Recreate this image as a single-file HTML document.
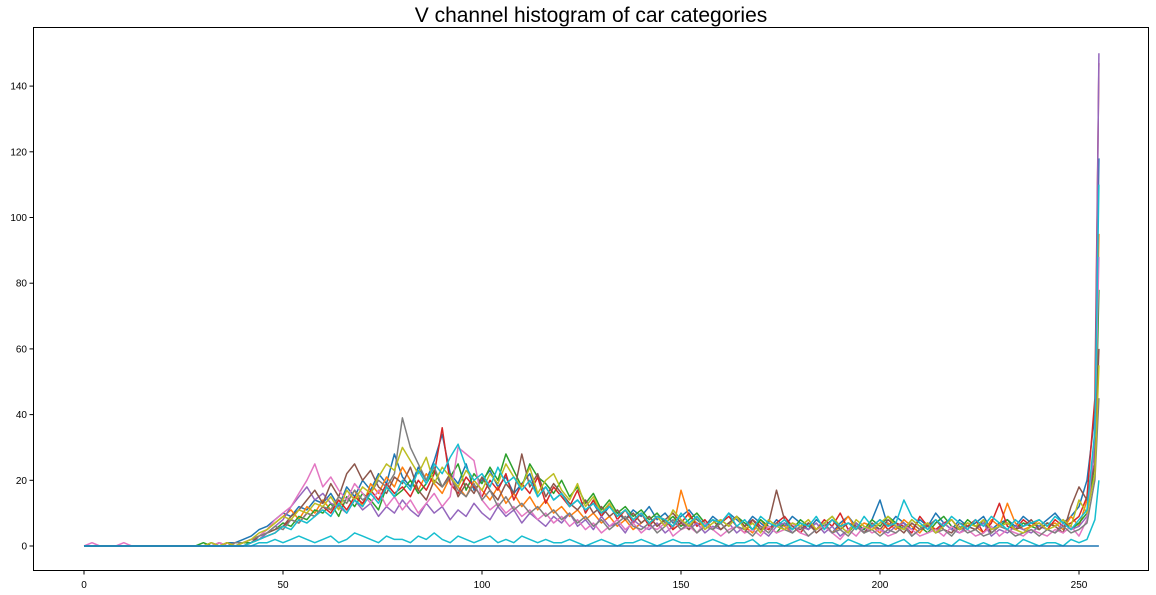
<!DOCTYPE html>
<html><head><meta charset="utf-8"><style>
body{margin:0;background:#fff;}
svg{display:block;font-family:"Liberation Sans","DejaVu Sans",sans-serif;}
</style></head><body>
<svg id="chart" width="1156" height="595">
<rect x="0" y="0" width="1156" height="595" fill="#fff"/>
<text x="591" y="22" font-size="21" text-anchor="middle" fill="#000">V channel histogram of car categories</text>
<g id="lines"></g>
<rect x="33.5" y="27.5" width="1115" height="543" fill="none" stroke="#000" stroke-width="1"/>
<g id="xaxis"></g>
<g id="yaxis"></g>
</svg>
<script>
const xTicks=[0,50,100,150,200,250];
const yTicks=[0,20,40,60,80,100,120,140];
const colors=["#1f77b4","#ff7f0e","#2ca02c","#d62728","#9467bd","#8c564b","#e377c2","#7f7f7f","#bcbd22","#17becf","#17becf"];
const s1=[0,0,0,0,0,0,0,0,0,0,0,0,0,0,0,0,1,0,1,1,2,3,5,6,8,10,9,12,11,14,13,16,12,18,15,20,17,22,19,28,21,18,24,20,26,34,22,19,25,17,20,23,18,21,16,19,22,15,18,14,16,12,14,11,13,9,12,10,8,11,9,12,8,10,7,9,11,8,6,9,7,10,8,6,9,7,5,8,6,9,7,5,8,6,4,7,9,6,5,8,14,6,9,7,5,8,6,10,7,5,8,6,7,9,5,7,8,6,9,7,6,8,10,7,9,12,20,40,118];
const s2=[0,0,0,0,0,0,0,0,0,0,0,0,0,0,0,0,0,1,0,1,1,2,3,5,7,9,11,8,12,10,14,11,15,13,17,12,19,16,21,18,24,20,17,22,19,16,21,18,15,20,17,14,18,13,16,12,15,11,14,10,12,9,11,8,10,7,9,6,8,5,7,9,6,8,5,17,9,7,6,8,5,7,9,6,4,8,5,7,6,4,6,8,5,7,4,6,9,5,7,6,4,7,5,8,6,4,7,5,6,8,5,7,6,4,8,6,13,7,5,6,8,6,7,5,9,6,14,30,95];
const s3=[0,0,0,0,0,0,0,0,0,0,0,0,0,0,0,1,0,0,1,0,1,1,2,4,5,7,6,9,8,11,10,13,9,15,12,16,14,11,18,15,17,20,16,19,23,18,21,25,17,22,19,24,20,28,23,18,25,21,19,16,20,15,18,13,16,11,14,10,12,9,11,8,10,7,9,6,8,10,7,5,8,6,9,7,5,8,6,4,7,5,8,6,5,7,9,6,4,7,5,8,6,9,7,5,8,6,4,7,9,6,5,8,6,7,4,6,8,5,7,6,5,7,6,8,5,7,10,25,78];
const s4=[0,0,0,0,0,0,0,0,0,0,0,0,0,0,0,0,0,0,1,0,0,1,2,3,4,6,8,7,10,9,12,10,14,11,15,13,17,14,19,16,18,15,20,17,22,36,19,16,21,18,15,20,17,22,14,19,16,21,13,18,15,12,17,10,14,9,13,8,11,7,10,6,9,8,5,7,10,6,8,5,7,9,6,4,8,6,5,7,9,6,4,7,5,8,6,10,5,7,4,6,8,5,7,6,4,9,6,5,7,8,5,6,8,4,7,13,6,5,8,6,7,5,8,6,7,9,15,45,147];
const s5=[0,0,0,0,0,0,0,0,0,0,0,0,0,0,0,0,0,0,0,0,1,2,2,4,6,8,12,15,18,14,16,13,12,10,14,11,13,9,12,10,14,11,9,13,10,12,8,11,9,13,10,8,12,9,11,7,10,8,6,9,7,10,6,8,5,9,6,7,4,8,6,5,7,4,6,8,5,7,4,6,5,7,4,6,8,5,3,6,7,4,6,5,7,4,6,3,5,7,4,6,5,4,6,7,3,5,6,4,7,5,4,6,5,7,3,5,4,6,5,4,6,5,4,7,5,6,9,30,150];
const s6=[0,0,0,0,0,0,0,0,0,0,0,0,0,0,0,0,0,1,0,0,0,1,3,4,5,6,9,11,14,17,13,19,15,22,25,20,23,18,16,21,19,24,17,14,20,18,22,15,19,16,21,17,14,19,16,28,18,22,15,19,16,13,11,14,10,12,9,11,8,10,7,9,6,8,10,7,5,9,6,8,5,7,9,6,8,5,7,17,8,6,5,7,4,6,8,5,7,6,4,7,5,8,6,4,7,5,6,8,5,4,7,6,5,8,4,6,7,5,6,8,5,7,6,4,12,18,14,25,60];
const s7=[0,1,0,0,0,1,0,0,0,0,0,0,0,0,0,0,0,1,0,1,1,2,3,5,8,10,12,16,20,25,18,21,17,14,19,16,13,17,12,15,11,14,10,13,16,12,15,30,28,26,14,11,13,10,12,9,11,8,10,7,9,6,8,5,7,4,6,8,5,7,4,6,5,7,3,5,6,4,7,5,3,5,6,4,5,3,6,4,5,7,4,3,5,6,4,2,5,3,6,4,5,3,4,6,5,3,4,5,3,6,4,5,3,4,6,3,5,4,3,5,4,3,5,4,6,3,8,35,88];
const s8=[0,0,0,0,0,0,0,0,0,0,0,0,0,0,0,0,0,0,0,1,1,2,3,4,6,5,8,7,10,9,12,11,15,13,17,14,16,20,18,22,39,30,25,20,24,18,21,17,15,19,14,17,12,15,11,13,10,12,9,11,8,10,7,9,6,8,5,7,9,6,5,7,4,6,8,5,7,4,6,5,7,4,6,5,3,6,4,7,5,4,6,3,5,7,4,5,3,6,4,5,3,5,4,6,3,5,7,4,5,3,6,4,5,3,4,6,5,3,4,5,3,5,4,6,4,5,7,20,45];
const s9=[0,0,0,0,0,0,0,0,0,0,0,0,0,0,0,0,1,0,1,0,1,2,4,5,7,9,8,11,10,13,12,15,11,17,14,18,16,21,25,23,30,26,22,27,19,24,21,18,23,20,17,22,19,25,21,18,24,16,20,22,17,14,19,12,15,10,13,9,11,8,10,7,9,6,11,8,6,9,5,7,8,6,9,5,7,4,8,6,5,7,6,8,5,7,9,6,4,8,6,5,7,9,6,5,8,6,7,4,6,8,5,7,6,8,5,6,7,5,4,6,7,5,6,8,6,14,10,22,55];
const s10=[0,0,0,0,0,0,0,0,0,0,0,0,0,0,0,0,0,0,0,0,0,1,2,3,4,6,5,8,7,9,11,9,13,10,14,12,16,13,18,15,20,17,23,19,25,22,27,31,24,20,22,18,24,19,21,17,20,15,18,14,16,12,14,11,13,10,12,9,11,8,10,7,9,8,6,10,7,9,6,8,7,10,6,8,5,9,7,6,8,5,7,6,9,5,8,6,7,5,9,6,8,6,7,14,9,7,5,8,6,9,7,5,8,6,9,7,5,8,6,7,8,6,9,7,5,8,11,35,110];
const s11=[0,0,0,0,0,0,0,0,0,0,0,0,0,0,0,0,0,0,0,0,0,0,1,1,2,1,2,3,2,1,2,3,1,2,4,3,2,1,3,2,2,1,3,2,4,2,1,3,2,1,2,3,1,2,1,3,2,1,2,1,1,2,1,0,1,2,1,0,1,1,2,1,0,1,2,1,1,0,1,2,1,0,1,1,2,0,1,1,0,1,2,1,0,1,1,0,2,1,0,1,1,0,1,2,0,1,1,0,1,0,2,1,0,1,0,1,1,0,2,1,0,1,1,0,2,1,2,8,20];
const s12=[0,0,0,0,0,0,0,0,0,0,0,0,0,0,0,0,0,0,0,0,0,0,0,0,0,0,0,0,0,0,0,0,0,0,0,0,0,0,0,0,0,0,0,0,0,0,0,0,0,0,0,0,0,0,0,0,0,0,0,0,0,0,0,0,0,0,0,0,0,0,0,0,0,0,0,0,0,0,0,0,0,0,0,0,0,0,0,0,0,0,0,0,0,0,0,0,0,0,0,0,0,0,0,0,0,0,0,0,0,0,0,0,0,0,0,0,0,0,0,0,0,0,0,0,0,0,0,0,0];
const series=[s1,s2,s3,s4,s5,s6,s7,s8,s9,s10,s11,s12];
const binCount=s1.length;
function binX(i){return i===binCount-1?255:i*2;}
function xScale(v){return 84+v*3.98;}
function yScale(v){return 546-v*3.285;}
const NS="http://www.w3.org/2000/svg";
const gl=document.getElementById("lines");
series.forEach((s,k)=>{
  const p=document.createElementNS(NS,"polyline");
  p.setAttribute("points",s.map((v,i)=>xScale(binX(i)).toFixed(1)+","+yScale(v).toFixed(1)).join(" "));
  p.setAttribute("fill","none");
  p.setAttribute("stroke",colors[k%colors.length]);
  p.setAttribute("stroke-width","1.5");
  p.setAttribute("stroke-linejoin","round");
  
  
  gl.appendChild(p);
});
const gx=document.getElementById("xaxis");
xTicks.forEach(t=>{
  const x=xScale(t);
  const ln=document.createElementNS(NS,"line");
  ln.setAttribute("x1",x);ln.setAttribute("x2",x);ln.setAttribute("y1",571);ln.setAttribute("y2",574.5);
  ln.setAttribute("stroke","#000");
  
  
  gx.appendChild(ln);
  const tx=document.createElementNS(NS,"text");
  tx.setAttribute("x",x);tx.setAttribute("y",588);tx.setAttribute("font-size","10");tx.setAttribute("text-anchor","middle");
  tx.textContent=t;
  
  
  gx.appendChild(tx);
});
const gy=document.getElementById("yaxis");
yTicks.forEach(t=>{
  const y=yScale(t);
  const ln=document.createElementNS(NS,"line");
  ln.setAttribute("x1",29.5);ln.setAttribute("x2",33);ln.setAttribute("y1",y);ln.setAttribute("y2",y);
  ln.setAttribute("stroke","#000");
  
  
  gy.appendChild(ln);
  const tx=document.createElementNS(NS,"text");
  tx.setAttribute("x",27);tx.setAttribute("y",y+3.5);tx.setAttribute("font-size","10");tx.setAttribute("text-anchor","end");
  tx.textContent=t;
  
  
  gy.appendChild(tx);
});
</script>
</body></html>
